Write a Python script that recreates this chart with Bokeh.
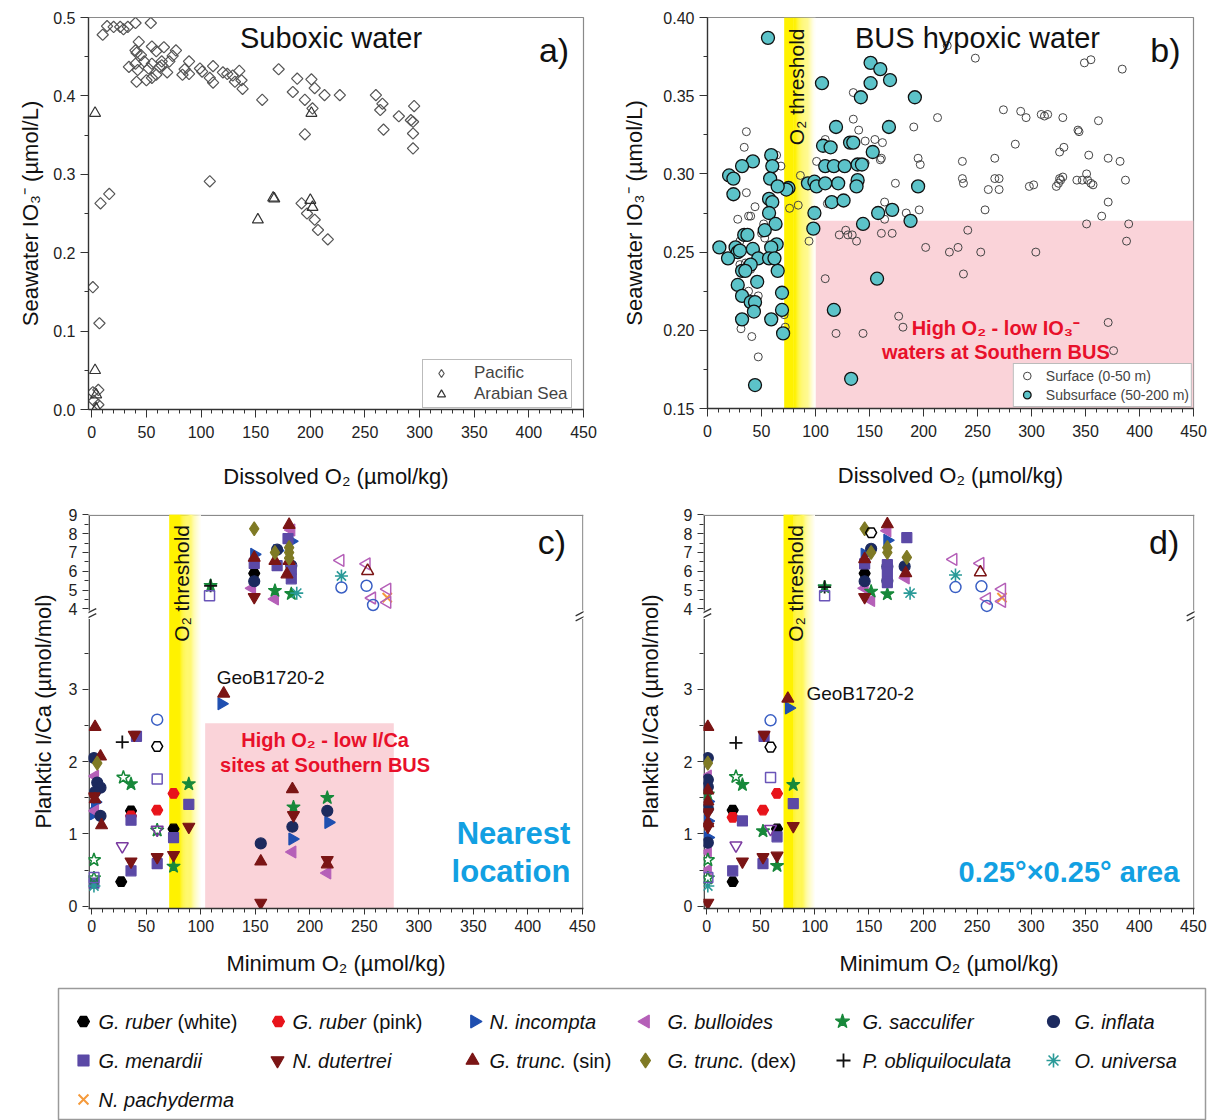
import math
from bokeh.plotting import figure
from bokeh.models import (Range1d, FixedTicker, Legend, LegendItem,
                          PrintfTickFormatter, CustomJSTickFormatter)
from bokeh.layouts import row, column
from bokeh.embed import file_html
from bokeh.resources import INLINE
from bokeh.core.properties import value

FONT = "Liberation Sans"

# ---------------- data: panel a (O2 vs IO3-) ----------------
a_pacific = [(10,0.478),(14,0.489),(20,0.488),(26,0.488),(29,0.485),(33,0.488),(40,0.493),(54,0.493),
             (43,0.469),(40,0.458),(41,0.455),(45,0.452),(55,0.463),(59,0.457),(66,0.462),(77,0.458),
             (74,0.451),(71,0.444),(64,0.444),(55,0.441),(48,0.444),(40,0.441),(34,0.437),(42,0.433),
             (52,0.435),(59,0.427),(64,0.439),(69,0.430),(41,0.418),(50,0.420),(55,0.423),(62,0.437),
             (89,0.444),(83,0.427),(89,0.428),(85,0.434),(99,0.435),(101,0.431),(111,0.438),(108,0.423),
             (111,0.417),(120,0.430),(124,0.428),(129,0.426),(135,0.432),(131,0.418),(137,0.420),(138,0.409),
             (156,0.395),(171,0.434),(188,0.422),(184,0.405),(195,0.395),(201,0.421),(204,0.410),(213,0.401),
             (227,0.401),(202,0.384),(195,0.351),(260,0.401),(264,0.382),(266,0.390),(267,0.357),(281,0.374),
             (295,0.387),(292,0.369),(294,0.367),(294,0.352),(294,0.333),(108,0.291),(8,0.263),(16,0.275),
             (192,0.263),(197,0.250),(204,0.242),(207,0.229),(216,0.217),(1,0.156),(7,0.110),(1,0.022),
             (6,0.025),(6,0.006),(2,0.011)]
a_arabian = [(3,0.378),(3,0.050),(4,0.019),(4,0.001),(3,-0.015),(152,0.242),(166,0.270),(167,0.269),
             (200,0.267),(201,0.378),(202,0.258)]

# ---------------- data: panel b (BUS) ----------------
b_subsurface = [(56,0.387),(106,0.358),(151,0.371),(160,0.367),(169,0.360),(151,0.358),(142,0.349),(192,0.349),
                (119,0.330),(168,0.330),(107,0.318),(114,0.317),(132,0.320),(135,0.320),(153,0.314),(59,0.312),
                (42,0.308),(32,0.305),(20,0.299),(24,0.297),(60,0.305),(58,0.297),(109,0.305),(117,0.305),
                (127,0.305),(139,0.306),(143,0.306),(121,0.294),(139,0.296),(75,0.291),(73,0.290),(65,0.292),
                (93,0.294),(99,0.295),(101,0.292),(109,0.294),(138,0.292),(195,0.292),(24,0.287),(57,0.284),
                (60,0.282),(115,0.282),(126,0.283),(57,0.275),(99,0.275),(158,0.275),(171,0.277),(144,0.268),
                (188,0.270),(63,0.268),(98,0.265),(53,0.264),(34,0.261),(37,0.261),(64,0.255),(11,0.253),
                (26,0.253),(28,0.250),(30,0.251),(42,0.252),(19,0.246),(47,0.246),(59,0.253),(57,0.246),
                (62,0.246),(40,0.242),(32,0.238),(35,0.238),(46,0.231),(28,0.229),(65,0.238),(69,0.224),
                (32,0.222),(40,0.218),(44,0.218),(43,0.212),(69,0.213),(32,0.207),(59,0.207),(70,0.198),
                (157,0.233),(117,0.213),(133,0.169),(44,0.165)]
b_surface = [(36,0.327),(34,0.317),(36,0.288),(28,0.271),(38,0.273),(40,0.273),(44,0.279),(50,0.262),
             (53,0.259),(30,0.242),(40,0.239),(31,0.201),(41,0.196),(47,0.183),(64,0.312),(68,0.305),
             (71,0.210),(72,0.202),(76,0.278),(84,0.280),(86,0.299),(94,0.257),(101,0.308),(109,0.322),
             (111,0.281),(109,0.233),(119,0.198),(122,0.261),(128,0.264),(130,0.261),(134,0.261),(138,0.257),
             (135,0.335),(135,0.352),(140,0.328),(146,0.321),(144,0.198),(146,0.307),(155,0.322),(162,0.320),
             (160,0.309),(161,0.310),(164,0.282),(164,0.271),(161,0.262),(171,0.262),(174,0.294),(177,0.209),
             (181,0.202),(184,0.275),(191,0.330),(195,0.310),(197,0.306),(196,0.277),(202,0.253),(213,0.336),
             (222,0.382),(224,0.250),(232,0.253),(236,0.308),(236,0.297),(237,0.294),(237,0.236),(241,0.264),
             (248,0.374),(253,0.250),(257,0.277),(260,0.290),(266,0.310),(266,0.297),(270,0.297),(270,0.290),
             (274,0.341),(285,0.319),(290,0.340),(295,0.336),(298,0.292),(302,0.293),(304,0.250),(309,0.338),
             (315,0.338),(312,0.337),(329,0.336),(326,0.314),(330,0.317),(323,0.292),(325,0.294),(327,0.296),
             (326,0.297),(329,0.298),(342,0.296),(343,0.328),(344,0.327),(349,0.371),(355,0.373),(353,0.312),
             (351,0.300),(352,0.296),(355,0.294),(357,0.293),(347,0.296),(351,0.268),(362,0.334),(365,0.273),
             (371,0.310),(371,0.282),(371,0.205),(376,0.187),(382,0.308),(384,0.367),(387,0.296),(388,0.257),
             (390,0.268),(30,0.257),(45,0.250),(52,0.268),(62,0.248),(38,0.225),(47,0.222),(35,0.243)]

# ---------------- data: panels c, d (minimum O2 vs I/Ca) ----------------
sp_italic = ["G. ruber", "G. ruber", "N. incompta", "G. bulloides", "G. sacculifer", "G. inflata",
             "G. menardii", "N. dutertrei", "G. trunc.", "G. trunc.", "P. obliquiloculata", "O. universa",
             "N. pachyderma"]
sp_normal = ["(white)", "(pink)", "", "", "", "", "", "", "(sin)", "(dex)", "", "", ""]
sp_marker = ["hex", "hex", "triangle", "triangle", "star", "circle", "square", "inverted_triangle",
             "triangle", "diamond", "cross", "asterisk", "x"]
sp_angle = [0, 0, -math.pi / 2, math.pi / 2, 0, 0, 0, 0, 0, 0, 0, 0, 0]
sp_color = ["#000000", "#e8141b", "#1f4fb0", "#b560b8", "#17883a", "#1c2a5e", "#5b49a6", "#7b1515",
            "#7b1515", "#7f7a25", "#111111", "#2a9a98", "#f59a3b"]
sp_size = [11, 11, 12, 12, 14, 11, 10, 12, 12, 14, 13, 13, 13]
sp_lw = [1.2, 1.2, 1.2, 1.2, 1.2, 1.2, 1.2, 1.2, 1.2, 1.2, 1.8, 1.6, 2.0]

c_ruber_white = [(27,0.34),(36,1.32),(75,1.07),(149,5.89)]
c_ruber_pink = [(75,1.56),(60,1.33),(36,1.25)]
c_incompta = [(3,1.44),(5,1.62),(2,1.28),(119,2.80),(184,0.93),(217,1.16),(149,6.9),(183,7.6),(170,7.1)]
c_bulloides = [(3,1.80),(3,1.32),(184,0.75),(216,0.46),(147,5.10),(168,4.53),(183,8.2)]
c_sacculifer = [(75,0.55),(89,1.69),(36,1.69),(185,1.37),(216,1.50),(109,5.23),(168,4.97),(183,4.80)]
c_inflata = [(2,2.05),(5,1.71),(8,1.64),(8,1.25),(3,1.58),(155,0.87),(184,1.10),(216,1.32),(149,5.47),
             (170,7.15),(183,6.3)]
c_menardii = [(36,0.49),(36,1.19),(41,2.35),(60,0.59),(75,0.95),(89,1.41),(2,0.32),(149,6.42),(170,6.3),
              (180,7.74),(183,5.6),(183,6.1)]
c_dutertrei = [(39,2.37),(36,0.62),(60,0.68),(75,0.71),(89,1.10),(155,0.05),(185,1.26),(216,0.64),
               (149,4.63),(2,1.52)]
c_trunc_sin = [(3,2.48),(8,2.07),(3,1.48),(9,1.12),(121,2.94),(155,0.62),(184,1.62),(216,0.58),(149,6.72),
               (168,6.55),(181,8.47),(181,6.55),(179,5.84)]
c_trunc_dex = [(5,1.98),(149,8.26),(168,7.0),(181,7.26),(181,7.0),(181,6.7)]
c_obliquiloculata = [(28,2.27),(109,5.23)]
c_universa = [(2,0.28),(229,5.75),(188,4.84)]
c_pachyderma = [(271,4.6)]

c_open_ruber_white = [(60,2.21)]
c_open_bulloides = [(228,6.58),(252,6.40),(257,4.58),(271,5.05),(271,4.35)]
c_open_sacculifer = [(29,1.78),(60,1.05),(2,0.64),(2,0.39)]
c_open_inflata = [(60,2.58),(229,5.14),(252,5.23),(258,4.21)]
c_open_menardii = [(60,1.76),(108,4.70),(2,0.40)]
c_open_dutertrei = [(28,0.83),(60,1.06)]
c_open_trunc_sin = [(253,6.02)]

d_ruber_white = [(24,0.34),(24,1.33),(65,1.07),(146,5.89)]
d_ruber_pink = [(65,1.56),(52,1.33),(24,1.23)]
d_incompta = [(76,2.74),(1,1.18),(1,0.95),(1,1.45),(146,6.9),(167,7.65)]
d_bulloides = [(1,1.80),(1,0.75),(1,0.50),(146,5.1),(152,4.45),(167,8.15),(184,5.65)]
d_sacculifer = [(33,1.68),(80,1.68),(52,1.04),(65,0.56),(1,1.55),(109,5.16),(152,4.93),(167,4.79)]
d_inflata = [(1,2.05),(1,1.75),(1,1.65),(1,1.35),(1,0.88),(152,7.2),(146,5.47),(167,6.25),(167,5.5),
             (183,6.26)]
d_menardii = [(53,2.35),(80,1.42),(33,1.18),(65,0.96),(52,0.59),(24,0.49),(146,6.4),(167,6.35),(167,5.95),
              (167,5.4),(185,7.79)]
d_dutertrei = [(53,2.37),(80,1.11),(33,0.62),(52,0.68),(65,0.70),(1,0.05),(1,1.3),(1,1.1),(146,4.63)]
d_trunc_sin = [(75,2.87),(1,2.48),(1,1.6),(1,1.45),(1,1.15),(146,6.65),(167,8.5),(184,5.9)]
d_trunc_dex = [(1,1.98),(146,8.26),(152,7.0),(167,7.26),(167,7.0),(185,6.74)]
d_obliquiloculata = [(27,2.26),(109,5.16)]
d_universa = [(1,0.28),(230,5.8),(188,4.84)]
d_pachyderma = [(273,4.6)]

d_open_ruber_white = [(59,2.20),(152,8.05)]
d_open_bulloides = [(228,6.63),(253,6.42),(259,4.55),(273,5.05),(273,4.4)]
d_open_sacculifer = [(27,1.79),(1,0.64),(1,0.39)]
d_open_inflata = [(59,2.57),(230,5.16),(254,5.2),(259,4.16)]
d_open_menardii = [(59,1.78),(109,4.7),(1,0.4)]
d_open_dutertrei = [(27,0.84),(59,1.07)]
d_open_trunc_sin = [(253,5.95)]

open_idx = [0, 3, 4, 5, 6, 7, 8]
open_color = ["#000000", "#b560b8", "#17883a", "#3a5fc4", "#6a55b8", "#7a3aa0", "#7b1515"]

c_filled = [c_ruber_white, c_ruber_pink, c_incompta, c_bulloides, c_sacculifer, c_inflata, c_menardii,
            c_dutertrei, c_trunc_sin, c_trunc_dex, c_obliquiloculata, c_universa, c_pachyderma]
c_open = [c_open_ruber_white, c_open_bulloides, c_open_sacculifer, c_open_inflata, c_open_menardii,
          c_open_dutertrei, c_open_trunc_sin]
d_filled = [d_ruber_white, d_ruber_pink, d_incompta, d_bulloides, d_sacculifer, d_inflata, d_menardii,
            d_dutertrei, d_trunc_sin, d_trunc_dex, d_obliquiloculata, d_universa, d_pachyderma]
d_open = [d_open_ruber_white, d_open_bulloides, d_open_sacculifer, d_open_inflata, d_open_menardii,
          d_open_dutertrei, d_open_trunc_sin]

x_ticks = list(range(0, 451, 50))
x_minor = list(range(0, 451, 10))


# ---------------- helpers ----------------
def xs(pts):
    return [p[0] for p in pts]


def ys(pts):
    return [p[1] for p in pts]


def T(v):
    # broken y axis: 0-4 linear, 4-9 compressed
    return v if v < 3.99 else 4.11 + (v - 4) * 0.26


def make_fig(fw, fh, mbl, mbr, mbt, mbb, xr, yr):
    p = figure(frame_width=fw, frame_height=fh, min_border_left=mbl, min_border_right=mbr,
               min_border_top=mbt, min_border_bottom=mbb, x_range=Range1d(*xr), y_range=Range1d(*yr),
               output_backend="svg", toolbar_location=None)
    p.xgrid.visible = False
    p.ygrid.visible = False
    p.outline_line_color = "#8a8a8a"
    p.outline_line_width = 1.2
    p.background_fill_color = "white"
    p.border_fill_color = "white"
    return p


def style_axes(p, tick_out, x_stand, x_lab_stand, y_lab_stand):
    for ax in p.axis:
        ax.axis_label_text_font = FONT
        ax.axis_label_text_font_size = "22px"
        ax.axis_label_text_font_style = "normal"
        ax.axis_label_text_color = "#111111"
        ax.major_label_text_font = FONT
        ax.major_label_text_font_size = "16px"
        ax.major_label_text_color = "#222222"
        ax.axis_line_color = "#333333"
        ax.axis_line_width = 1.3
        ax.major_tick_line_color = "#333333"
        ax.minor_tick_line_color = "#333333"
        ax.major_tick_in = 0
        ax.minor_tick_in = 0
        ax.major_tick_out = tick_out
        ax.minor_tick_out = 4
    p.xaxis.major_label_standoff = x_stand
    p.xaxis.axis_label_standoff = x_lab_stand
    p.yaxis.major_label_standoff = 5
    p.yaxis.axis_label_standoff = y_lab_stand
    p.xaxis.ticker = FixedTicker(ticks=x_ticks, minor_ticks=x_minor)


def txt(p, x, y, s, size, color="#111111", style="normal", align="center", angle=0.0):
    p.text(x=[x], y=[y], text=[s], text_font=value(FONT), text_font_size=value(f"{size}px"),
           text_color=color, text_font_style=style, text_align=align, text_baseline="middle",
           angle=angle)


def threshold_band(p, y0, y1, label_x, label_top):
    p.quad(left=[71], right=[80], bottom=[y0], top=[y1], fill_color="#fff200", line_color=None)
    n = 20
    lefts, rights, cols = [], [], []
    for i in range(n):
        f = (i + 0.5) / n
        g = int(242 + (255 - 242) * f)
        b = int(0 + 255 * f ** 1.2)
        lefts.append(80 + i * 20 / n)
        rights.append(80 + (i + 1) * 20 / n + 0.05)
        cols.append("#%02x%02x%02x" % (255, g, min(b, 255)))
    p.quad(left=lefts, right=rights, bottom=y0, top=y1, fill_color=cols, line_color=None)
    txt(p, label_x, label_top, "O\u2082 threshold", 21, align="right", angle=math.pi / 2)


def plot_species(p, filled, opened):
    for i, pts in enumerate(filled):
        if not pts:
            continue
        p.scatter(xs(pts), [T(v) for v in ys(pts)], marker=sp_marker[i], angle=sp_angle[i],
                  size=sp_size[i], fill_color=sp_color[i], line_color=sp_color[i], line_width=sp_lw[i])
    for k, pts in enumerate(opened):
        i = open_idx[k]
        p.scatter(xs(pts), [T(v) for v in ys(pts)], marker=sp_marker[i], angle=sp_angle[i],
                  size=sp_size[i], fill_color=None, line_color=open_color[k], line_width=1.5)


def broken_frame(p, ytop):
    p.yaxis.axis_line_color = None
    p.outline_line_color = None
    p.segment(x0=[-2.4, -2.4], y0=[-0.03, 4.09], x1=[-2.4, -2.4], y1=[3.97, ytop],
              line_color="#333333", line_width=1.4)
    p.segment(x0=[-3], y0=[ytop - 0.006], x1=[451], y1=[ytop - 0.006], line_color="#8a8a8a", line_width=1.2)
    p.segment(x0=[450.3, 450.3], y0=[-0.03, 4.09], x1=[450.3, 450.3], y1=[3.97, ytop],
              line_color="#8a8a8a", line_width=1.2)
    bx0, by0, bx1, by1 = [], [], [], []
    for xe in (-2.4, 450.3):
        for dy in (-0.035, 0.035):
            bx0.append(xe - 6.5)
            by0.append(4.03 + dy - 0.05)
            bx1.append(xe + 6.5)
            by1.append(4.03 + dy + 0.05)
    p.segment(x0=bx0, y0=by0, x1=bx1, y1=by1, line_color="#333333", line_width=1.3)
    ticks = [0, 1, 2, 3] + [T(v) for v in range(4, 10)]
    minor = [0.5, 1.5, 2.5, 3.5] + [T(v + 0.5) for v in range(4, 9)]
    p.yaxis.ticker = FixedTicker(ticks=ticks, minor_ticks=minor)
    p.yaxis.formatter = CustomJSTickFormatter(
        code="return tick < 3.99 ? tick.toFixed(0) : String(Math.round((tick - 4.11) / 0.26) + 4);")


# ---------------- panel a ----------------
pa = make_fig(495, 392, 88, 24, 17, 88, (-3, 450), (0.0, 0.5))
style_axes(pa, 8, 8, 23, 7)
pa.xaxis.axis_label = "Dissolved O\u2082 (\u00b5mol/kg)"
pa.yaxis.axis_label = "Seawater IO\u2083\u207b (\u00b5mol/L)"
pa.yaxis.ticker = FixedTicker(ticks=[0, 0.1, 0.2, 0.3, 0.4, 0.5],
                              minor_ticks=[0.05, 0.15, 0.25, 0.35, 0.45])
pa.yaxis.formatter = PrintfTickFormatter(format="%.1f")
pa.scatter(xs(a_pacific), ys(a_pacific), marker="square", angle=math.pi / 4, size=8,
           fill_color=None, line_color="#555555", line_width=1.2)
r_ara = pa.scatter(xs(a_arabian), ys(a_arabian), marker="triangle", size=11,
                   fill_color=None, line_color="#333333", line_width=1.2)
# legend-only glyph (a point outside the visible range) showing the diamond shape
r_pac_leg = pa.scatter(x=[-100], y=[-1], marker="diamond", size=15, fill_color=None,
                       line_color="#555555", line_width=1.2)
txt(pa, 219, 0.474, "Suboxic water", 29)
txt(pa, 423, 0.458, "a)", 34)
leg_a = Legend(items=[LegendItem(label="Pacific", renderers=[r_pac_leg]),
                      LegendItem(label="Arabian Sea", renderers=[r_ara])],
               location=(334, 1), label_text_font=FONT, label_text_font_size="17px",
               border_line_color="#777777", border_line_width=1.2, padding=3, spacing=1, margin=0,
               glyph_width=30, glyph_height=20, label_height=20, label_standoff=18,
               background_fill_alpha=1.0)
pa.add_layout(leg_a)

# ---------------- panel b ----------------
pb = make_fig(486, 391, 100, 24, 17, 89, (0, 450), (0.15, 0.40))
style_axes(pb, 8, 8, 23, 13)
pb.xaxis.axis_label = "Dissolved O\u2082 (\u00b5mol/kg)"
pb.yaxis.axis_label = "Seawater IO\u2083\u207b (\u00b5mol/L)"
pb.yaxis.ticker = FixedTicker(ticks=[0.15, 0.20, 0.25, 0.30, 0.35, 0.40],
                              minor_ticks=[0.175, 0.225, 0.275, 0.325, 0.375])
pb.yaxis.formatter = PrintfTickFormatter(format="%.2f")
pb.quad(left=[100], right=[450], bottom=[0.15], top=[0.27], fill_color="#fad3d9", line_color=None)
threshold_band(pb, 0.15, 0.40, 82, 0.393)
r_surf = pb.scatter(xs(b_surface), ys(b_surface), marker="circle", size=8, fill_color=None,
                    line_color="#444444", line_width=1.0)
r_sub = pb.scatter(xs(b_subsurface), ys(b_subsurface), marker="circle", size=13, fill_color="#5cc3c9",
                   line_color="#111111", line_width=1.3)
txt(pb, 250, 0.387, "BUS hypoxic water", 29)
txt(pb, 424, 0.379, "b)", 34)
txt(pb, 267, 0.2015, "High O\u2082 - low IO\u2083\u207b", 20, color="#e8102a", style="bold")
txt(pb, 267, 0.186, "waters at Southern BUS", 20, color="#e8102a", style="bold")
leg_b = Legend(items=[LegendItem(label="Surface (0-50 m)", renderers=[r_surf]),
                      LegendItem(label="Subsurface (50-200 m)", renderers=[r_sub])],
               location="bottom_right", label_text_font=FONT, label_text_font_size="14px",
               border_line_color="#777777", border_line_width=1.2, padding=2, spacing=0, margin=1,
               glyph_width=22, glyph_height=19, label_height=19, label_standoff=8,
               background_fill_alpha=1.0)
pb.add_layout(leg_b)

# ---------------- panel c ----------------
YTOP = T(9)
pc = make_fig(495, 394, 88, 24, 17, 70, (-3, 451), (-0.03, YTOP + 0.005))
style_axes(pc, 6, 5, 16, 10)
pc.xaxis.axis_label = "Minimum O\u2082 (\u00b5mol/kg)"
pc.yaxis.axis_label = "Planktic I/Ca (\u00b5mol/mol)"
broken_frame(pc, YTOP)
pc.quad(left=[104], right=[277], bottom=[-0.03], top=[2.53], fill_color="#fad3d9", line_color=None)
threshold_band(pc, -0.03, YTOP + 0.01, 82, 5.27)
plot_species(pc, c_filled, c_open)
txt(pc, 422, 5.03, "c)", 34)
txt(pc, 164, 3.16, "GeoB1720-2", 19)
txt(pc, 214, 2.30, "High O\u2082 - low I/Ca", 20, color="#e8102a", style="bold")
txt(pc, 214, 1.96, "sites at Southern BUS", 20, color="#e8102a", style="bold")
txt(pc, 439, 1.00, "Nearest", 31, color="#12a0e2", style="bold", align="right")
txt(pc, 439, 0.48, "location", 31, color="#12a0e2", style="bold", align="right")

# ---------------- panel d ----------------
pd_ = make_fig(491, 394, 96, 23, 17, 70, (-3, 451), (-0.03, YTOP + 0.005))
style_axes(pd_, 6, 5, 16, 18)
pd_.xaxis.axis_label = "Minimum O\u2082 (\u00b5mol/kg)"
pd_.yaxis.axis_label = "Planktic I/Ca (\u00b5mol/mol)"
broken_frame(pd_, YTOP)
threshold_band(pd_, -0.03, YTOP + 0.01, 82, 5.27)
plot_species(pd_, d_filled, d_open)
txt(pd_, 423, 5.03, "d)", 34)
txt(pd_, 142, 2.94, "GeoB1720-2", 19)
txt(pd_, 437, 0.48, "0.25\u00b0\u00d70.25\u00b0 area", 29, color="#12a0e2", style="bold", align="right")

# ---------------- species legend ----------------
leg_marker_x = [83, 278, 474, 645, 842, 1053, 83, 277, 472, 645, 843, 1053, 83]
leg_text_x = [98, 292, 489, 667, 862, 1074, 98, 292, 489, 667, 862, 1074, 98]
leg_norm_x = [177, 372, 0, 0, 0, 0, 0, 0, 572, 750, 0, 0, 0]
leg_row = [0, 0, 0, 0, 0, 0, 1, 1, 1, 1, 1, 1, 2]
row_y = [99, 60, 21]

pl = figure(width=1217, height=142, x_range=Range1d(0, 1217), y_range=Range1d(0, 142),
            output_backend="svg", toolbar_location=None, min_border=0,
            x_axis_type=None, y_axis_type=None)
pl.xgrid.visible = False
pl.ygrid.visible = False
pl.outline_line_color = None
pl.quad(left=[58], right=[1205], bottom=[1], top=[132], fill_color="white",
        line_color="#9a9a9a", line_width=1.5)
for i in range(len(sp_italic)):
    yy = row_y[leg_row[i]]
    pl.scatter([leg_marker_x[i]], [yy], marker=sp_marker[i], angle=sp_angle[i], size=sp_size[i] + 1,
               fill_color=sp_color[i], line_color=sp_color[i], line_width=sp_lw[i])
    pl.text(x=[leg_text_x[i]], y=[yy], text=[sp_italic[i]], text_font=value(FONT),
            text_font_size=value("20px"), text_font_style="italic", text_baseline="middle",
            text_color="#111111")
    if sp_normal[i]:
        pl.text(x=[leg_norm_x[i]], y=[yy], text=[sp_normal[i]], text_font=value(FONT),
                text_font_size=value("20px"), text_font_style="normal", text_baseline="middle",
                text_color="#111111")

layout = column(row(pa, pb), row(pc, pd_), pl)
open("out.html", "w").write(file_html(layout, INLINE))
